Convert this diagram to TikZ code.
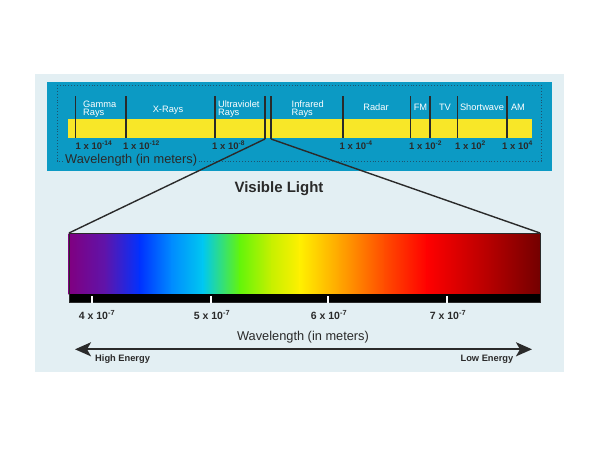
\documentclass[tikz,border=0pt]{standalone}
\usepackage{fontspec}
\setmainfont{Liberation Sans}
\usepackage{tikz}
\usetikzlibrary{calc,positioning}
\usetikzlibrary{arrows.meta}
\tikzset{>={Stealth[length=16pt,width=14pt,inset=4pt]}}

\definecolor{panelgray}{RGB}{227,239,243}
\definecolor{bandblue}{RGB}{12,154,196}
\definecolor{dotblue}{RGB}{28,84,112}
\definecolor{bandyellow}{RGB}{248,231,40}
\definecolor{inkgray}{RGB}{42,42,42}
\definecolor{sp0}{RGB}{128,0,128}
\definecolor{sp1}{RGB}{95,20,170}
\definecolor{sp2}{RGB}{0,50,255}
\definecolor{sp3}{RGB}{0,140,255}
\definecolor{sp4}{RGB}{0,200,240}
\definecolor{sp5}{RGB}{100,245,10}
\definecolor{sp6}{RGB}{200,240,0}
\definecolor{sp7}{RGB}{255,240,0}
\definecolor{sp8}{RGB}{255,165,0}
\definecolor{sp9}{RGB}{255,75,0}
\definecolor{sp10}{RGB}{255,0,0}
\definecolor{sp11}{RGB}{180,0,0}
\definecolor{sp12}{RGB}{115,0,0}

\begin{document}
\begin{tikzpicture}[x=1pt,y=-1pt]
          \tikzstyle{bandlabel} = [text=white, inner sep=0pt, align=left, font=\fontsize{9.3}{8.4}\selectfont]
          \tikzstyle{power} = [text=inkgray, inner sep=0pt, anchor=base west, font=\bfseries\fontsize{9.5}{10}\selectfont]
          \tikzstyle{vispower} = [text=inkgray, inner sep=0pt, anchor=base, font=\bfseries\fontsize{10.5}{11}\selectfont]
          \tikzstyle{energy} = [text=inkgray, inner sep=0pt, font=\bfseries\fontsize{9.3}{10}\selectfont]
          \tikzstyle{axis} = [text=inkgray, inner sep=1pt, font=\fontsize{12.8}{14}\selectfont]
          \tikzstyle{edge} = [inkgray, line width=1.3pt]
          \useasboundingbox (0,0) rectangle (600,450);

          % panels
          \fill[panelgray] (35,74) rectangle (564,372);
          \fill[bandblue] (46.5,81.5) rectangle (552,171);
          \draw[dotblue, dotted, line width=0.9pt] (57,85) rectangle (541,161);
          \fill[bandyellow] (68,119) rectangle (531.5,137.5);

          % band edges
          \foreach \x in {75.5,126,215,343,410.5,430,457.5,507}
            \draw[edge] (\x,96) -- (\x,138);
          \draw[edge] (265,96) -- (265,139) coordinate (visl);
          \draw[edge] (271,96) -- (271,139) coordinate (visr);

          \node[bandlabel, anchor=west] (gamma) at (83,109) {Gamma\\Rays};
          \node[bandlabel] (xrays) at (168,110) {X-Rays};
          \node[bandlabel, anchor=west] (uv) at (218,109) {Ultraviolet\\Rays};
          \node[bandlabel, anchor=west] (infrared) at (291.5,109) {Infrared\\Rays};
          \node[bandlabel] (radar) at (376,107.5) {Radar};
          \node[bandlabel] (fm) at (420.5,107.5) {FM};
          \node[bandlabel] (tv) at (445,107.5) {TV};
          \node[bandlabel] (shortwave) at (482,107.5) {Shortwave};
          \node[bandlabel] (am) at (518,107.5) {AM};

          \node[power] (p14) at (75.5,149) {1 x 10\textsuperscript{-14}};
          \node[power] (p12) at (123,149) {1 x 10\textsuperscript{-12}};
          \node[power] (p8) at (212,149) {1 x 10\textsuperscript{-8}};
          \node[power] (p4) at (339.5,149) {1 x 10\textsuperscript{-4}};
          \node[power] (p2) at (409,149) {1 x 10\textsuperscript{-2}};
          \node[power] (pp2) at (455,149) {1 x 10\textsuperscript{2}};
          \node[power] (pp4) at (502,149) {1 x 10\textsuperscript{4}};

          \node[axis, anchor=base west, fill=bandblue] (wltop) at (64,163.5) {Wavelength (in meters)};

          \node[text=inkgray, inner sep=0pt, anchor=base, font=\bfseries\fontsize{15}{16}\selectfont] (visible) at (279,192) {Visible Light};

          % visible spectrum
          \coordinate (specnw) at (69,233);
          \coordinate (specne) at (540,233);
          \foreach \xa/\xb/\ca/\cb in {69/105/sp0/sp1, 105/140/sp1/sp2, 140/172/sp2/sp3, 172/203/sp3/sp4,
                                      203/240/sp4/sp5, 240/272/sp5/sp6, 272/300/sp6/sp7, 300/340/sp7/sp8,
                                      340/385/sp8/sp9, 385/427/sp9/sp10, 427/490/sp10/sp11, 490/540/sp11/sp12}
            \shade[left color=\ca, right color=\cb] (\xa-0.3,233) rectangle (\xb+0.3,294);
          \fill[black] (69,294) rectangle (540,302.5);
          \draw[inkgray, line width=0.8pt] (specnw) rectangle (540,302.5);
          \foreach \x in {92,211,328,447}
            \draw[white, line width=2pt] (\x,296) -- (\x,302.5);

          \draw[inkgray, line width=1.4pt] (visl) -- (specnw);
          \draw[inkgray, line width=1.4pt] (visr) -- (specne);

          \node[vispower] (w4) at (97,319) {4 x 10\textsuperscript{-7}};
          \node[vispower] (w5) at (212,319) {5 x 10\textsuperscript{-7}};
          \node[vispower] (w6) at (329,319) {6 x 10\textsuperscript{-7}};
          \node[vispower] (w7) at (448,319) {7 x 10\textsuperscript{-7}};

          \node[axis, anchor=base, inner sep=0pt] (wlbottom) at (303,340) {Wavelength (in meters)};

          % energy arrow
          \coordinate (hi) at (75,349.3);
          \coordinate (lo) at (532,349.3);
          \draw[<->, inkgray, line width=2pt] (hi) -- (lo);
          \node[energy, anchor=base west] (high) at (95,361) {High Energy};
          \node[energy, anchor=base east] (low) at (513.5,361) {Low Energy};
        \end{tikzpicture}
\end{document}
